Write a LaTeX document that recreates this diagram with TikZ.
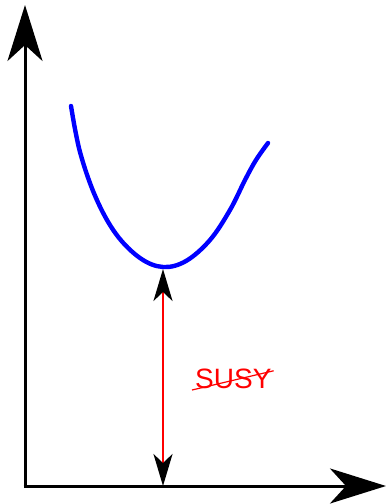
\documentclass[tikz,border=0pt]{standalone}
\usepackage{fontspec}
\newfontfamily\lblfont{Liberation Sans}
\usetikzlibrary{arrows.meta}
\tikzset{
  ax/.style={draw=black,line width=3pt,-{Stealth[length=56pt,width=35pt,inset=16pt]}},
  pot/.style={draw=blue,line width=4.4pt,line cap=round},
  gap/.style={draw=red,line width=2.8pt,{Stealth[length=32pt,width=19pt,inset=9pt,black]}-{Stealth[length=32pt,width=19pt,inset=9pt,black]}},
  lb/.style={text=red,font=\lblfont\fontsize{28}{30}\selectfont,inner sep=0pt},
  strk/.style={draw=red,line width=1.2pt},
}
\begin{document}
\begin{tikzpicture}[x=1pt,y=-1pt]
\useasboundingbox (0,0) rectangle (388,504);
% ---------------- axes
\coordinate (o) at (25,486);
\coordinate (ytip) at (25,5);
\coordinate (xtip) at (386,486);
\draw[ax] ([yshift=-1.5pt]o) -- (ytip);
\draw[ax] ([xshift=-1.5pt]o) -- (xtip);
% ---------------- the potential
\draw[pot] plot[smooth,tension=0.6] coordinates
  {(71,106) (80,152) (96,198) (116,234) (140,258) (163,267) (186,261)
   (210,240) (230,210) (245,180) (256,160) (268,143)};
\coordinate (vmin) at (163,269);
\coordinate (vbot) at (163,486);
% ---------------- the gap
\draw[gap] (vmin) -- (vbot);
\node[lb,anchor=south west] (susy) at (195,389) {SUSY};
\draw[strk] ([xshift=-3pt,yshift=-1pt]susy.south west) -- ([xshift=2pt,yshift=-2pt]susy.north east);
\end{tikzpicture}
\end{document}
